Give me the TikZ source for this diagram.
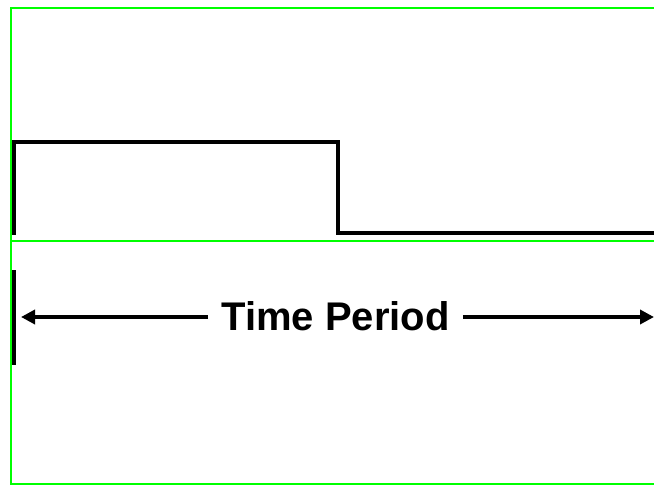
\documentclass[tikz,border=0pt]{standalone}
\usepackage{fontspec}
\setmainfont{Liberation Sans}
\usetikzlibrary{arrows.meta}
\begin{document}
\begin{tikzpicture}[x=1pt, y=-1pt,
    frame/.style={draw=green, line width=2pt},
    signal/.style={line width=4pt, line join=miter},
    span/.style={line width=3.6pt, -{Triangle[length=14pt,width=14pt]}}]
    \useasboundingbox (0,0) rectangle (654,485);

    % Рамка
    \draw[frame] (654,8) -- (11,8) -- (11,484) -- (654,484);
    \draw[frame] (11,241) -- (654,241);

    % Импульс
    \draw[signal] (13.5,235) -- (13.5,142) -- (338,142) -- (338,232.5) -- (654,232.5);

    % Период
    \draw[signal] (13.5,270) -- (13.5,365);
    \coordinate (start) at (21,317);
    \coordinate (stop) at (654,317);
    \node[font=\fontsize{40}{42}\selectfont\bfseries, inner xsep=13pt] (period) at (335.5,316) {Time Period};
    \draw[span] (period.west |- start) -- (start);
    \draw[span] (period.east |- stop) -- (stop);
\end{tikzpicture}
\end{document}
